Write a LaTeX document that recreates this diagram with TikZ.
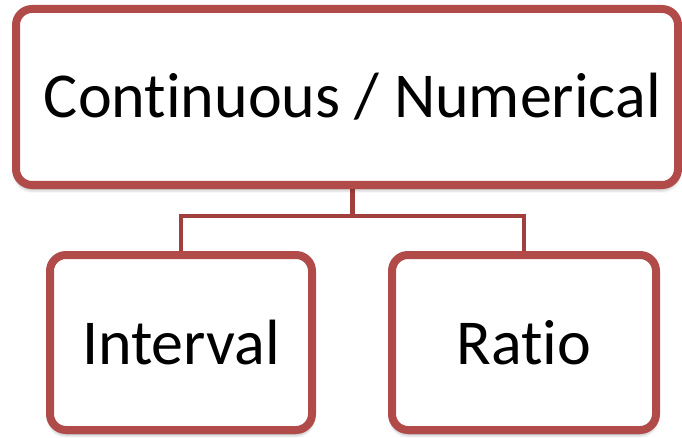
\documentclass[tikz,border=0pt]{standalone}
\usepackage{fontspec}
\setmainfont{Carlito}[Ligatures=NoCommon]
\usetikzlibrary{calc,backgrounds,shadows.blur}
\definecolor{boxred}{HTML}{B04B49}
\definecolor{linkred}{HTML}{A13F3E}
\tikzset{
  catbox/.style={draw=boxred, line width=8pt, fill=white, rounded corners=16pt,
    inner sep=0pt, font=\fontsize{64}{72}\selectfont,
    blur shadow={shadow xshift=0pt, shadow yshift=-4pt, shadow blur radius=4pt, shadow opacity=45}},
  link/.style={draw=linkred, line width=4.5pt}
}
\begin{document}
\begin{tikzpicture}[x=1pt,y=1pt]
  \useasboundingbox (0,0) rectangle (682,437);
  % parent category
  \node[catbox, minimum width=662pt, minimum height=176pt] (top) at (347,340) {\hspace*{11pt}Continuous / Numerical};
  % child categories
  \node[catbox, minimum width=262pt, minimum height=175pt] (interval) at (181,94.5) {Interval};
  \node[catbox, minimum width=264pt, minimum height=175pt] (ratio) at (524,94.5) {Ratio};
  % tree connector behind the boxes
  \coordinate (mid) at ($(interval.north)!0.5!(ratio.north)$);
  \coordinate (bar) at ($(mid)+(0,35)$);
  \begin{scope}[on background layer]
    \draw[link] (top.south -| mid) -- (bar);
    \draw[link] (interval.north) |- (bar) -| (ratio.north);
  \end{scope}
\end{tikzpicture}
\end{document}
